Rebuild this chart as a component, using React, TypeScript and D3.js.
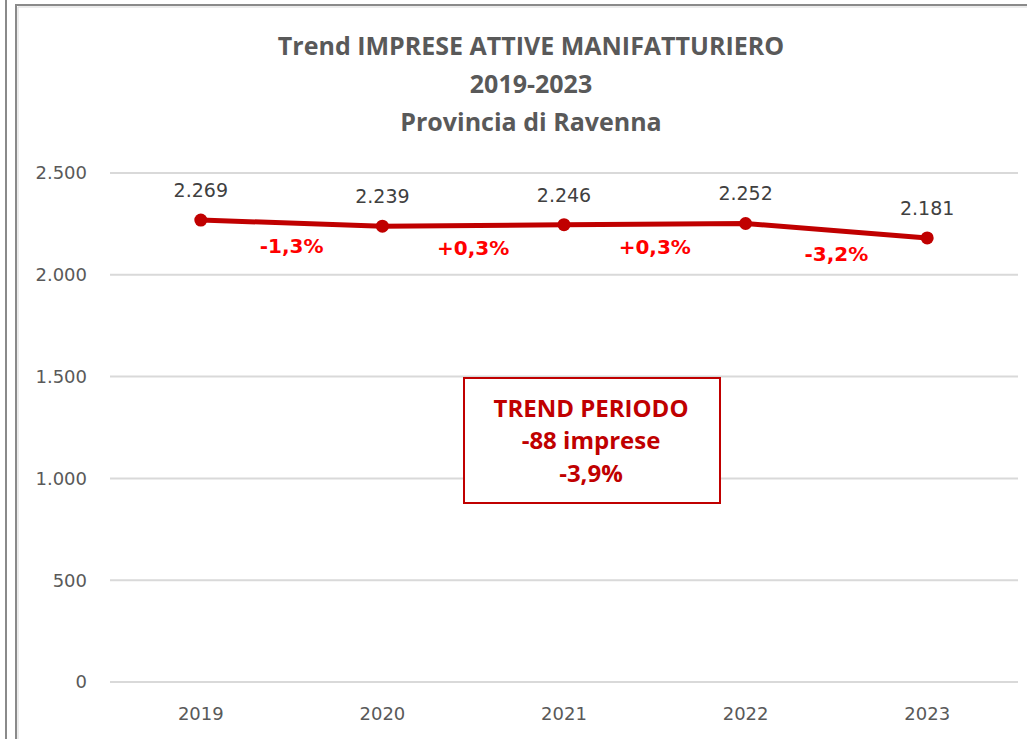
import React from "react";
import * as d3 from "d3";

const years = ["2019", "2020", "2021", "2022", "2023"];
const imprese = [2269, 2239, 2246, 2252, 2181];
const variazioni = ["-1,3%", "+0,3%", "+0,3%", "-3,2%"];
const yTicks = [0, 500, 1000, 1500, 2000, 2500];
const titleLines = ["Trend IMPRESE ATTIVE MANIFATTURIERO", "2019-2023", "Provincia di Ravenna"];
const boxLines = ["TREND PERIODO", "-88 imprese", "-3,9%"];

const W = 1027;
const H = 739;
const plotL = 110;
const plotR = 1018;
const plotT = 173;
const plotB = 682;

const fmt = (v: number) => d3.format(",")(v).replace(/,/g, ".");

export default function App() {
  const x = d3.scaleBand<string>().domain(years).range([plotL, plotR]);
  const y = d3.scaleLinear().domain([0, 2500]).range([plotB, plotT]);
  const cx = (i: number) => (x(years[i]) as number) + x.bandwidth() / 2;
  const line = d3
    .line<number>()
    .x((_, i) => cx(i))
    .y((d) => y(d));

  const axisFont = "'DejaVu Sans', Arial, sans-serif";
  const titleFont = "'Open Sans', 'Liberation Sans', sans-serif";

  return (
    <svg
      width={W}
      height={H}
      style={{ position: "absolute", left: 0, top: 0, background: "#fff" }}
    >
      {/* frame lines */}
      <line x1={6} y1={0} x2={6} y2={H} stroke="#8a8a8a" strokeWidth={2} />
      <line x1={16} y1={5} x2={16} y2={H} stroke="#8a8a8a" strokeWidth={2} />
      <line x1={15} y1={5} x2={W} y2={5} stroke="#8a8a8a" strokeWidth={2} />
      <line x1={18} y1={7} x2={W} y2={7} stroke="#d9d9d9" strokeWidth={1} />
      <line x1={18} y1={7} x2={18} y2={H} stroke="#d9d9d9" strokeWidth={1} />

      {/* title */}
      {titleLines.map((t, i) => (
        <text
          key={t}
          x={531}
          y={55 + i * 38}
          textAnchor="middle"
          fontFamily={titleFont}
          fontWeight={700}
          fontSize={25}
          fill="#595959"
        >
          {t}
        </text>
      ))}

      {/* gridlines & y labels */}
      {yTicks.map((t) => (
        <g key={t}>
          <line
            x1={plotL}
            x2={plotR}
            y1={y(t)}
            y2={y(t)}
            stroke="#d9d9d9"
            strokeWidth={2}
          />
          <text
            x={87}
            y={y(t)}
            dy="0.35em"
            textAnchor="end"
            fontFamily={axisFont}
            fontSize={18}
            fill="#595959"
          >
            {fmt(t)}
          </text>
        </g>
      ))}

      {/* x labels */}
      {years.map((yr, i) => (
        <text
          key={yr}
          x={cx(i)}
          y={720}
          textAnchor="middle"
          fontFamily={axisFont}
          fontSize={18}
          fill="#595959"
        >
          {yr}
        </text>
      ))}

      {/* line */}
      <path
        d={line(imprese) || ""}
        fill="none"
        stroke="#C00000"
        strokeWidth={5}
        strokeLinejoin="round"
      />
      {imprese.map((v, i) => (
        <circle key={i} cx={cx(i)} cy={y(v)} r={6.5} fill="#C00000" />
      ))}

      {/* value labels */}
      {imprese.map((v, i) => (
        <text
          key={"l" + i}
          x={cx(i)}
          y={y(v) - 23}
          textAnchor="middle"
          fontFamily={axisFont}
          fontSize={19}
          fill="#404040"
        >
          {fmt(v)}
        </text>
      ))}

      {/* variation labels */}
      {variazioni.map((t, i) => (
        <text
          key={"v" + i}
          x={(cx(i) + cx(i + 1)) / 2}
          y={(y(imprese[i]) + y(imprese[i + 1])) / 2 + 30}
          textAnchor="middle"
          fontFamily={axisFont}
          fontWeight={700}
          fontSize={20}
          fill="#FF0000"
        >
          {t}
        </text>
      ))}

      {/* trend box */}
      <rect
        x={464}
        y={378}
        width={256}
        height={125}
        fill="#fff"
        stroke="#C00000"
        strokeWidth={2}
      />
      {boxLines.map((t, i) => (
        <text
          key={t}
          x={591}
          y={416.5 + i * 32.5}
          textAnchor="middle"
          fontFamily={titleFont}
          fontWeight={700}
          fontSize={24}
          fill="#C00000"
        >
          {t}
        </text>
      ))}
    </svg>
  );
}
